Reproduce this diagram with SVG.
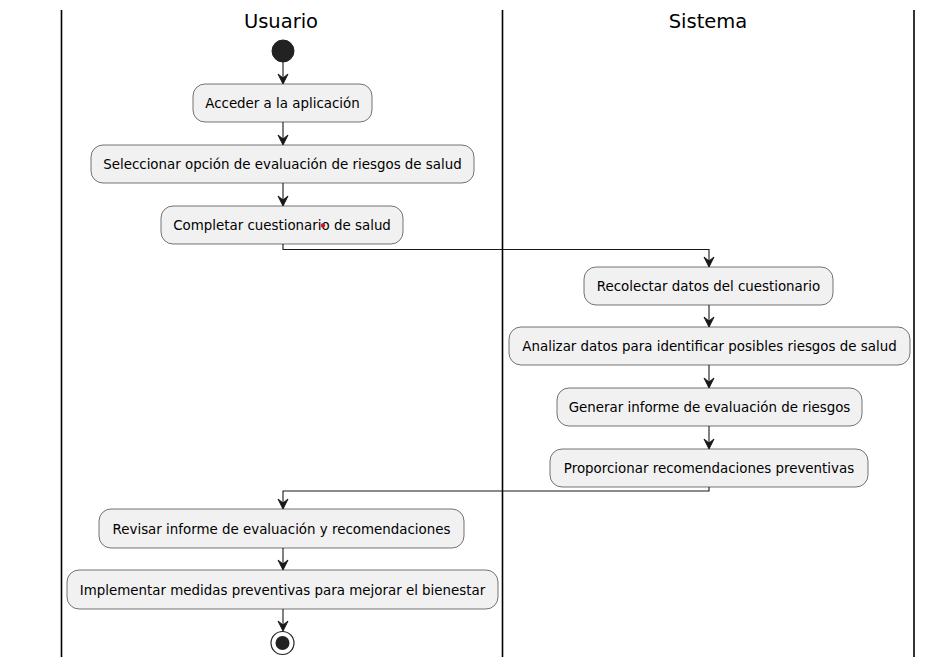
<svg xmlns="http://www.w3.org/2000/svg" width="952" height="670" viewBox="0 0 952 670">
<style>
.lane{stroke:#000;stroke-width:1.6;fill:none}
.title{font-family:"DejaVu Sans",sans-serif;font-size:19.5px;fill:#000;text-anchor:middle}
.box{fill:#F1F1F1;stroke:#181818;stroke-width:0.6}
.lbl{font-family:"DejaVu Sans",sans-serif;font-size:13.4px;fill:#000;text-anchor:middle}
.edge{stroke:#181818;stroke-width:1.1;fill:none}
.head{fill:#181818;stroke:#181818;stroke-width:1}
</style>
<rect width="952" height="670" fill="#fff"/>
<g id="lanes">
<line class="lane" x1="61.5" y1="10" x2="61.5" y2="657"/>
<line class="lane" x1="502.5" y1="10" x2="502.5" y2="657"/>
<line class="lane" x1="914" y1="10" x2="914" y2="657"/>
<text class="title" x="281" y="28">Usuario</text>
<text class="title" x="708" y="28">Sistema</text>
</g>
<g id="connectors">
<path class="edge" d="M283,62 V83"/><polygon class="head" points="278,74 283,84 288,74 283,78"/>
<path class="edge" d="M283,122 V144"/><polygon class="head" points="278,135 283,145 288,135 283,139"/>
<path class="edge" d="M283,183 V205"/><polygon class="head" points="278,196 283,206 288,196 283,200"/>
<path class="edge" d="M283,244 V249.5 H709 V266"/><polygon class="head" points="704,257 709,267 714,257 709,261"/>
<path class="edge" d="M709,305 V326"/><polygon class="head" points="704,317 709,327 714,317 709,321"/>
<path class="edge" d="M709,365 V387"/><polygon class="head" points="704,378 709,388 714,378 709,382"/>
<path class="edge" d="M709,426 V448"/><polygon class="head" points="704,439 709,449 714,439 709,443"/>
<path class="edge" d="M709,487 V491 H283 V508"/><polygon class="head" points="278,499 283,509 288,499 283,503"/>
<path class="edge" d="M283,548 V569"/><polygon class="head" points="278,560 283,570 288,560 283,564"/>
<path class="edge" d="M283,609 V630"/><polygon class="head" points="278,621 283,631 288,621 283,625"/>
</g>
<g id="start"><circle cx="283" cy="51" r="11" fill="#222" stroke="#222"/></g>
<g id="n1"><rect class="box" x="193" y="84" width="179" height="38" rx="12"/><text class="lbl" x="282.5" y="108">Acceder a la aplicación</text></g>
<g id="n2"><rect class="box" x="91" y="145" width="383" height="38" rx="12"/><text class="lbl" x="282.5" y="169">Seleccionar opción de evaluación de riesgos de salud</text></g>
<g id="n3"><rect class="box" x="161" y="206" width="242" height="38" rx="12"/><text class="lbl" x="282" y="230">Completar cuestionario de salud</text><circle cx="323" cy="225.5" r="2.2" fill="#e0141e"/></g>
<g id="n4"><rect class="box" x="584" y="267" width="249" height="38" rx="12"/><text class="lbl" x="708.5" y="291">Recolectar datos del cuestionario</text></g>
<g id="n5"><rect class="box" x="509" y="327" width="401" height="38" rx="12"/><text class="lbl" x="709.5" y="351">Analizar datos para identificar posibles riesgos de salud</text></g>
<g id="n6"><rect class="box" x="557" y="388" width="305" height="38" rx="12"/><text class="lbl" x="709.5" y="412">Generar informe de evaluación de riesgos</text></g>
<g id="n7"><rect class="box" x="550" y="449" width="318" height="38" rx="12"/><text class="lbl" x="709" y="473">Proporcionar recomendaciones preventivas</text></g>
<g id="n8"><rect class="box" x="99" y="509" width="365" height="39" rx="12"/><text class="lbl" x="281.5" y="534">Revisar informe de evaluación y recomendaciones</text></g>
<g id="n9"><rect class="box" x="67" y="570" width="431" height="39" rx="12"/><text class="lbl" x="282.5" y="595">Implementar medidas preventivas para mejorar el bienestar</text></g>
<g id="end"><circle cx="282.5" cy="643" r="11.5" fill="#fff" stroke="#222" stroke-width="1.2"/><circle cx="282.5" cy="643" r="7" fill="#222"/></g>
</svg>
